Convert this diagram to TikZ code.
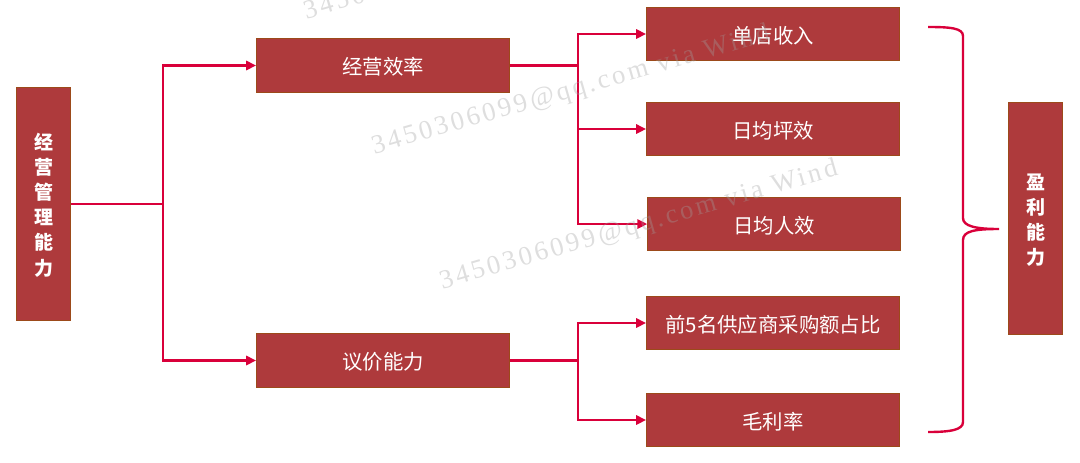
\documentclass[tikz,border=0pt]{standalone}
\usepackage{fontspec}
\usetikzlibrary{arrows.meta}
\setmainfont{Noto Sans CJK SC}
\newfontfamily\markfont{Liberation Serif}[LetterSpace=11.5]
\definecolor{boxred}{HTML}{AE3A3C}
\definecolor{boxedge}{HTML}{9C4A1A}
\definecolor{linkred}{HTML}{D9003A}
\definecolor{markgray}{HTML}{A0A0A0}
\begin{document}
\begin{tikzpicture}[x=0.025cm, y=-0.025cm, node distance={2.375cm}, thick,
    main/.style = {draw=boxedge, fill=boxred, line width=0.7pt, minimum width=6.32cm, minimum height=1.33cm, inner sep=0pt, text=white, text height=15pt, text depth=2pt, font=\fontsize{14.5}{14.5}\selectfont},
    side/.style = {main, minimum width=1.36cm, minimum height=5.8cm, align=center, font=\fontsize{13.5}{17.8}\selectfont\bfseries},
    link/.style = {draw=linkred, line width=1.7pt},
    tip/.style = {-{Triangle[length=7pt, width=6.5pt]}},
    wmark/.style = {text=markgray, opacity=0.35, rotate=16, anchor=west, inner sep=0pt, font=\markfont\fontsize{19}{19}\selectfont}]
      \useasboundingbox (0,0) rectangle (1080,462);
      \clip (0,0) rectangle (1080,462);
      \node[side, text height=103pt] (1) at (43.5,204) {经\\营\\管\\理\\能\\力};
      \node[main] (2) at (383,65.5) {经营效率};
      \node[main] (3) at (383,360.5) {议价能力};
      \node[main] (4) at (773,34) {单店收入};
      \node[main] (5) [below of=4] {日均坪效};
      \node[main] (6) [below of=5, xshift=0.03cm] {日均人效};
      \node[main] (7) at (773,323) {前5名供应商采购额占比};
      \node[main] (8) at (773,420) {毛利率};
      \node[side, text height=68pt] (9) at (1035.5,218.5) {盈\\利\\能\\力};
      \coordinate (a) at (163,204);
      \coordinate (b) at (578,65.5);
      \coordinate (c) at (578,360.5);
      \draw[link] (1) -- (a);
      \draw[link, tip] (a) |- (2);
      \draw[link, tip] (a) |- (3);
      \draw[link] (2) -- (b);
      \draw[link, tip] (b) |- (4);
      \draw[link, tip] (b) |- (5);
      \draw[link, tip] (b) |- (6);
      \draw[link] (3) -- (c);
      \draw[link, tip] (c) |- (7);
      \draw[link, tip] (c) |- (8);
      \coordinate (p) at (928,27);
      \coordinate (q) at (999,229);
      \coordinate (r) at (928,432);
      \draw[link] (p) .. controls (950,27) and (963,28) .. (963,36) -- (963,218)
        .. controls (963,226) and (975,229) .. (q)
        .. controls (975,229) and (963,231) .. (963,240) -- (963,422)
        .. controls (963,430) and (950,432) .. (r);
      \node[wmark] (w1) at (304,13) {3450306099@qq.com via Wind};
      \node[wmark] (w2) at (372,148) {3450306099@qq.com via Wind};
      \node[wmark] (w3) at (440,283) {3450306099@qq.com via Wind};
    \end{tikzpicture}
\end{document}
